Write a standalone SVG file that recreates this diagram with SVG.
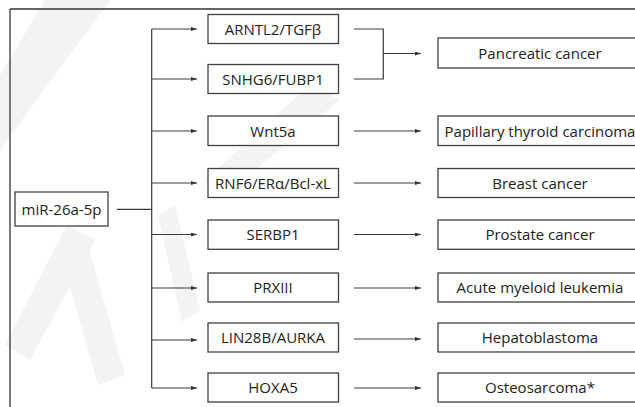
<svg xmlns="http://www.w3.org/2000/svg" width="635" height="407" viewBox="0 0 635 407">
  <defs>
    <marker id="ah" markerWidth="6" markerHeight="4" refX="6" refY="2" orient="auto" markerUnits="userSpaceOnUse">
      <path d="M0,0 L6,2 L0,4 Z" fill="#333"/>
    </marker>
    <style>
      .box { fill: #ffffff; stroke: #404040; stroke-width: 1.3; }
      .lbl { font-family: "Open Sans", "Liberation Sans", sans-serif; font-size: 15px; fill: #222222; text-anchor: middle; }
      .con { fill: none; stroke: #3a3a3a; stroke-width: 1.2; }
      .arr { fill: none; stroke: #3a3a3a; stroke-width: 1.2; marker-end: url(#ah); }
      .wm { fill: #f3f3f3; }
    </style>
  </defs>
  <rect width="635" height="407" fill="#ffffff"/>
  <g id="watermark">
    <polygon class="wm" points="45,0 110,0 0,150 0,75"/>
    <polygon class="wm" points="67,225 95,240 30,360 5,345"/>
    <polygon class="wm" points="60,250 85,235 125,375 98,385"/>
    <polygon class="wm" points="158,215 175,205 200,310 182,322"/>
    <polygon class="wm" points="310,85 340,100 225,195 205,180"/>
  </g>
  <g id="frame">
    <line x1="10" y1="9" x2="635" y2="9" stroke="#333" stroke-width="1.3"/>
    <line x1="10" y1="9" x2="10" y2="407" stroke="#333" stroke-width="1.3"/>
  </g>
  <g id="connectors">
    <line class="con" x1="117" y1="209.3" x2="151.7" y2="209.3"/>
    <line class="con" x1="151.7" y1="29" x2="151.7" y2="388"/>
    <line class="arr" x1="151.7" y1="29" x2="197" y2="29"/>
    <line class="arr" x1="151.7" y1="79" x2="197" y2="79"/>
    <line class="arr" x1="151.7" y1="131" x2="197" y2="131"/>
    <line class="arr" x1="151.7" y1="183" x2="197" y2="183"/>
    <line class="arr" x1="151.7" y1="234.5" x2="197" y2="234.5"/>
    <line class="arr" x1="151.7" y1="288" x2="197" y2="288"/>
    <line class="arr" x1="151.7" y1="340" x2="197" y2="340"/>
    <line class="arr" x1="151.7" y1="388" x2="197" y2="388"/>
    <polyline class="con" points="354,29 383.3,29 383.3,79 354,79"/>
    <line class="arr" x1="383.3" y1="53.5" x2="421" y2="53.5"/>
    <line class="arr" x1="354" y1="131" x2="421" y2="131"/>
    <line class="arr" x1="354" y1="183" x2="421" y2="183"/>
    <line class="arr" x1="354" y1="234.5" x2="421" y2="234.5"/>
    <line class="arr" x1="354" y1="288" x2="421" y2="288"/>
    <line class="arr" x1="354" y1="339" x2="421" y2="339"/>
    <line class="arr" x1="354" y1="388" x2="421" y2="388"/>
  </g>
  <g id="mir">
    <rect class="box" x="15" y="192" width="93" height="34"/>
    <text class="lbl" x="61.5" y="214.5">miR-26a-5p</text>
  </g>
  <g id="arntl2">
    <rect class="box" x="208" y="14.5" width="130.5" height="29"/>
    <text class="lbl" x="273" y="34.5">ARNTL2/TGFβ</text>
  </g>
  <g id="snhg6">
    <rect class="box" x="208" y="64.5" width="130.5" height="29"/>
    <text class="lbl" x="273" y="84.5">SNHG6/FUBP1</text>
  </g>
  <g id="wnt5a">
    <rect class="box" x="208" y="116" width="130.5" height="29.5"/>
    <text class="lbl" x="273" y="136.5">Wnt5a</text>
  </g>
  <g id="rnf6">
    <rect class="box" x="208" y="168.5" width="130.5" height="29"/>
    <text class="lbl" x="273" y="188.5">RNF6/ERα/Bcl-xL</text>
  </g>
  <g id="serbp1">
    <rect class="box" x="208" y="220" width="130.5" height="29.3"/>
    <text class="lbl" x="273" y="240">SERBP1</text>
  </g>
  <g id="prxiii">
    <rect class="box" x="208" y="273" width="130.5" height="29"/>
    <text class="lbl" x="273" y="293">PRXIII</text>
  </g>
  <g id="lin28b">
    <rect class="box" x="208" y="323" width="130.5" height="29"/>
    <text class="lbl" x="273" y="343">LIN28B/AURKA</text>
  </g>
  <g id="hoxa5">
    <rect class="box" x="208" y="373" width="130.5" height="29"/>
    <text class="lbl" x="273" y="393">HOXA5</text>
  </g>
  <g id="pancreatic">
    <rect class="box" x="438" y="38" width="205" height="30"/>
    <text class="lbl" x="540" y="58.5">Pancreatic cancer</text>
  </g>
  <g id="papillary">
    <rect class="box" x="438" y="116" width="205" height="29.5"/>
    <text class="lbl" x="540" y="136.5">Papillary thyroid carcinoma</text>
  </g>
  <g id="breast">
    <rect class="box" x="438" y="168.5" width="205" height="29"/>
    <text class="lbl" x="540" y="188.5">Breast cancer</text>
  </g>
  <g id="prostate">
    <rect class="box" x="438" y="220" width="205" height="29.3"/>
    <text class="lbl" x="540" y="240">Prostate cancer</text>
  </g>
  <g id="aml">
    <rect class="box" x="438" y="273" width="205" height="29"/>
    <text class="lbl" x="540" y="293">Acute myeloid leukemia</text>
  </g>
  <g id="hepatoblastoma">
    <rect class="box" x="438" y="323" width="205" height="29"/>
    <text class="lbl" x="540" y="343">Hepatoblastoma</text>
  </g>
  <g id="osteosarcoma">
    <rect class="box" x="438" y="373" width="205" height="29"/>
    <text class="lbl" x="540" y="393">Osteosarcoma*</text>
  </g>
</svg>
